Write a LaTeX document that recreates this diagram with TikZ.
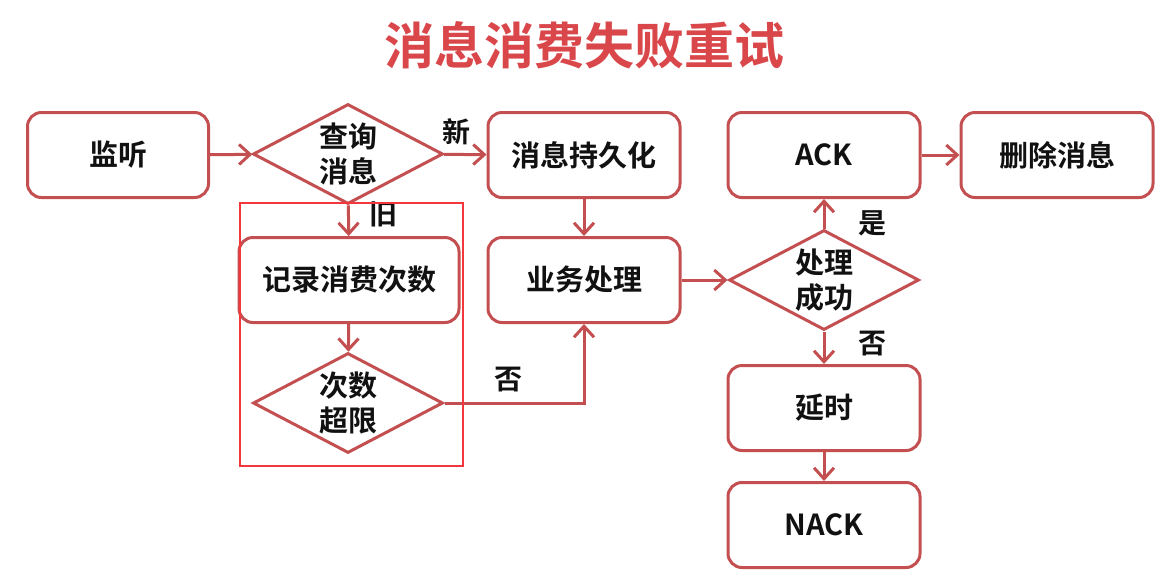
\documentclass[tikz,border=0pt]{standalone}
\usepackage{fontspec}
\setmainfont{Noto Sans CJK SC}[BoldFont={Noto Sans CJK SC Bold}]
\usepackage{xcolor}
\definecolor{cLine}{HTML}{C44F51}
\definecolor{cTitle}{HTML}{D9474B}
\definecolor{cMark}{HTML}{F2383C}
\definecolor{cText}{HTML}{111111}
\usepackage{tikz}
\usetikzlibrary{positioning,arrows.meta,shapes.geometric,calc}
\tikzset{
  node-box/.style={draw=cLine,line width=3pt,rounded corners=14pt,fill=white,
    minimum width=192pt,minimum height=85pt,align=center,
    font=\fontsize{29}{35}\selectfont\bfseries,text=cText},
  node-dec/.style={draw=cLine,line width=3pt,diamond,aspect=1.9,fill=white,
    minimum width=190pt,minimum height=100pt,inner sep=-2pt,align=center,
    font=\fontsize{29}{35}\selectfont\bfseries,text=cText},
  arrow/.style={-{Straight Barb[length=11pt,width=20pt]},line width=3pt,draw=cLine},
  lbl/.style={font=\fontsize{28}{34}\selectfont\bfseries,text=cText},
}

\begin{document}
\begin{tikzpicture}[x=1pt,y=-1pt]
  \useasboundingbox (0,0) rectangle (1172,582);
  \node[font=\fontsize{50}{60}\selectfont\bfseries,text=cTitle] (title) at (584,45) {消息消费失败重试};
  % top row
  \node[node-box,minimum width=181pt] (listen) at (118,155) {监听};
  \node[node-dec] (query) at (348,154) {查询\\消息};
  \node[node-box] (persist) at (584,155) {消息持久化};
  \node[node-box] (ack) at (824,155) {ACK};
  \node[node-box] (del) at (1057,155) {删除消息};
  % middle
  \node[node-box,minimum width=220pt] (count) at (349,280) {记录消费次数};
  \node[node-box] (biz) at (584,280) {业务处理};
  \node[node-dec] (succ) at (824,280) {处理\\成功};
  % bottom
  \node[node-dec] (exceed) at (348,403) {次数\\超限};
  \node[node-box] (delay) at (824,408) {延时};
  \node[node-box] (nack) at (824,525) {NACK};

  \draw[arrow] (listen) -- (query);
  \draw[arrow] (query) -- node[lbl,above=5pt,pos=0.3] {新} (persist);
  \draw[arrow] (query) -- node[lbl,right=16pt,pos=0.3] {旧} (count);
  \draw[arrow] (count) -- (exceed);
  \draw[arrow] (exceed) -| node[lbl,above=6pt,pos=0.23] {否} (biz);
  \draw[arrow] (persist) -- (biz);
  \draw[arrow] (biz) -- (succ);
  \draw[arrow] (succ) -- (ack);
  \draw[arrow] (ack) -- (del);
  \draw[arrow] (succ) -- (delay);
  \draw[arrow] (delay) -- (nack);
  \node[lbl] at ($(succ.north)+(48,-5)$) {是};
  \node[lbl] at ($(succ.south)+(48,12)$) {否};

  \draw[cMark,line width=2pt] (240,203) rectangle (463,466);
\end{tikzpicture}
\end{document}
